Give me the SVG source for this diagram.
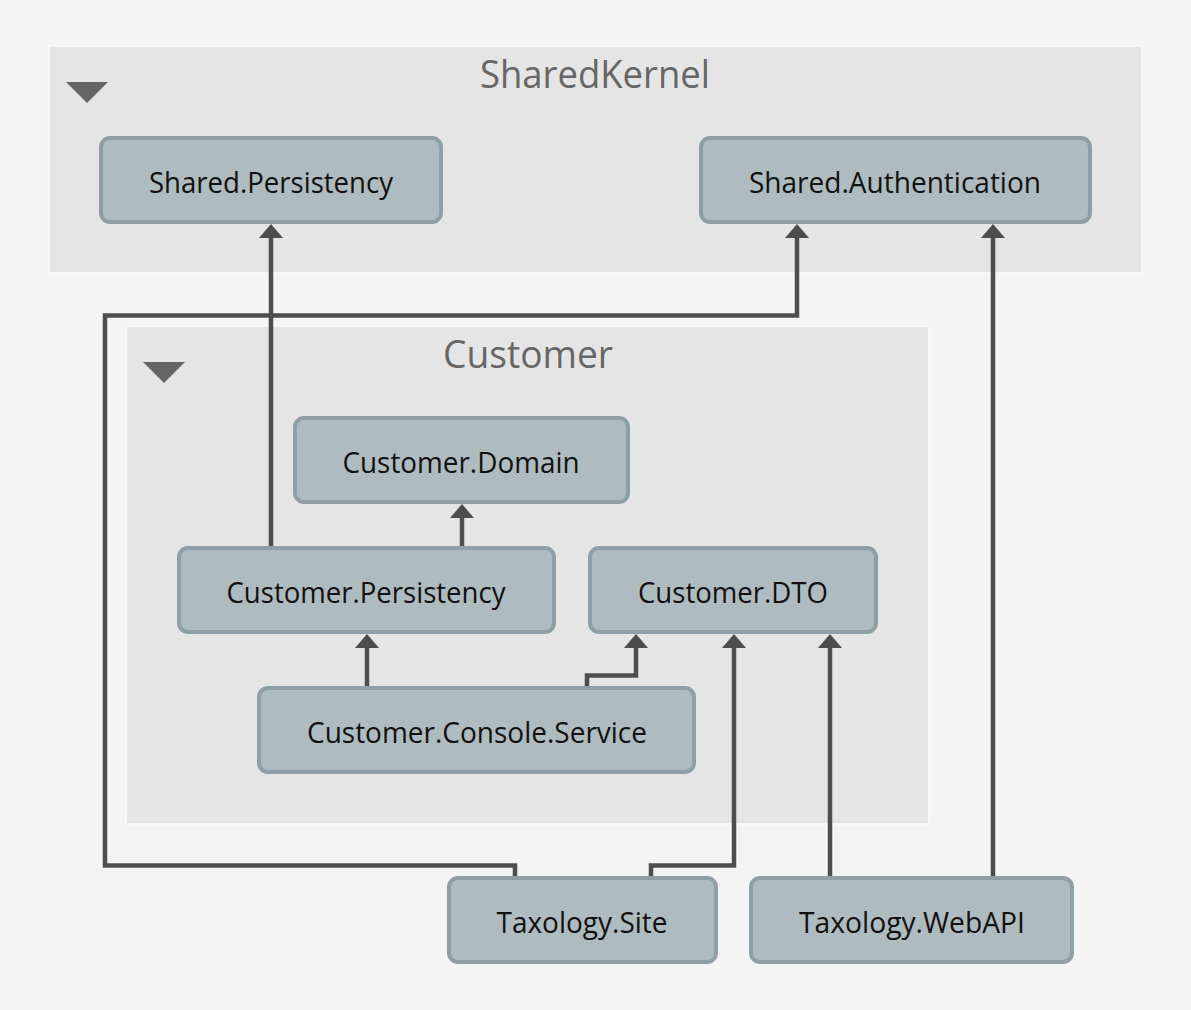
<svg xmlns="http://www.w3.org/2000/svg" width="1191" height="1010" viewBox="0 0 1191 1010">
<style>
.grp{fill:#e5e5e5;stroke:#fafafa;stroke-width:1.5}
.gt{font-family:"Open Sans","Noto Sans",sans-serif;font-size:39px;fill:#666666;text-anchor:middle}
.tri{fill:#666666}
.node{fill:#aebbbf;stroke:#8e9fa6;stroke-width:4}
.nt{font-family:"Open Sans","Noto Sans",sans-serif;font-size:29px;fill:#111111;text-anchor:middle}
.edge{fill:none;stroke:#4d4d4d;stroke-width:4.5;marker-end:url(#ah)}
</style>
<defs>
<marker id="ah" markerUnits="userSpaceOnUse" markerWidth="14" markerHeight="24" viewBox="0 0 14 24" refX="1" refY="12" orient="auto">
<path d="M0 0 L14 12 L0 24 Z" fill="#4d4d4d"/>
</marker>
</defs>
<rect width="1191" height="1010" fill="#f4f4f4"/>
<g id="SharedKernel">
<rect class="grp" x="49" y="46" width="1093" height="227"/>
<text class="gt" x="595" y="88" textLength="230" lengthAdjust="spacingAndGlyphs">SharedKernel</text>
<path class="tri" d="M66 82 L108 82 L87 103 Z"/>
</g>
<g id="Customer">
<rect class="grp" x="126" y="326" width="803" height="498"/>
<text class="gt" x="528" y="368" textLength="170" lengthAdjust="spacingAndGlyphs">Customer</text>
<path class="tri" d="M143 362 L185 362 L164 383 Z"/>
</g>
<g id="Shared.Persistency">
<rect class="node" x="101" y="138" width="340" height="84" rx="9"/>
<text class="nt" x="271" y="193" textLength="244" lengthAdjust="spacingAndGlyphs">Shared.Persistency</text>
</g>
<g id="Shared.Authentication">
<rect class="node" x="701" y="138" width="389" height="84" rx="9"/>
<text class="nt" x="895" y="193" textLength="292" lengthAdjust="spacingAndGlyphs">Shared.Authentication</text>
</g>
<g id="Customer.Domain">
<rect class="node" x="295" y="418" width="333" height="84" rx="9"/>
<text class="nt" x="461" y="473" textLength="237" lengthAdjust="spacingAndGlyphs">Customer.Domain</text>
</g>
<g id="Customer.Persistency">
<rect class="node" x="179" y="548" width="375" height="84" rx="9"/>
<text class="nt" x="366" y="603" textLength="279" lengthAdjust="spacingAndGlyphs">Customer.Persistency</text>
</g>
<g id="Customer.DTO">
<rect class="node" x="590" y="548" width="286" height="84" rx="9"/>
<text class="nt" x="733" y="603" textLength="190" lengthAdjust="spacingAndGlyphs">Customer.DTO</text>
</g>
<g id="Customer.Console.Service">
<rect class="node" x="259" y="688" width="435" height="84" rx="9"/>
<text class="nt" x="477" y="743" textLength="340" lengthAdjust="spacingAndGlyphs">Customer.Console.Service</text>
</g>
<g id="Taxology.Site">
<rect class="node" x="449" y="878" width="267" height="84" rx="9"/>
<text class="nt" x="582" y="933" textLength="171" lengthAdjust="spacingAndGlyphs">Taxology.Site</text>
</g>
<g id="Taxology.WebAPI">
<rect class="node" x="751" y="878" width="321" height="84" rx="9"/>
<text class="nt" x="912" y="933" textLength="226" lengthAdjust="spacingAndGlyphs">Taxology.WebAPI</text>
</g>
<g id="connectors">
<path class="edge" d="M462 546 L462 517"/>
<path class="edge" d="M271 546 L271 237"/>
<path class="edge" d="M367 686 L367 647"/>
<path class="edge" d="M587 686 L587 675.5 L636 675.5 L636 647"/>
<path class="edge" d="M651 876 L651 865.5 L734 865.5 L734 647"/>
<path class="edge" d="M830 876 L830 647"/>
<path class="edge" d="M515 876 L515 865.5 L105 865.5 L105 315.5 L797 315.5 L797 237"/>
<path class="edge" d="M993 876 L993 237"/>
</g>
</svg>
